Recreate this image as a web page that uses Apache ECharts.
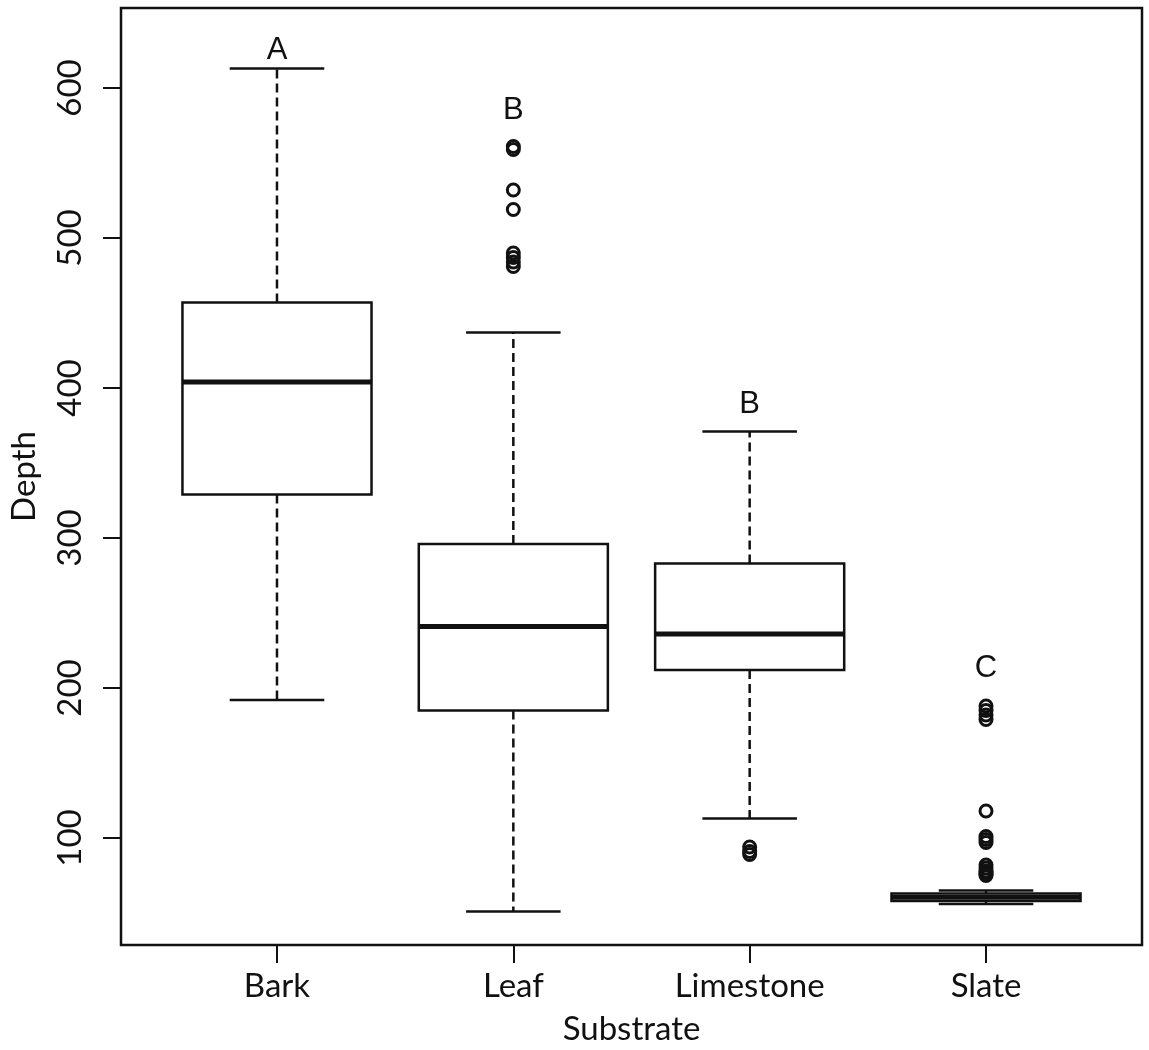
<!DOCTYPE html>
<html><head><meta charset="utf-8">
<script src="https://cdn.jsdelivr.net/npm/echarts@6/dist/echarts.min.js"></script>
<style>html,body{margin:0;padding:0;background:#fff}#c{width:1149px;height:1050px}</style>
</head><body><div id="c"></div>
<script>
const categories = ['Bark', 'Leaf', 'Limestone', 'Slate'];
const whiskerLow = [192, 51, 113, 56];
const q1 = [329, 185, 212, 58];
const median = [404, 241, 236, 60.5];
const q3 = [457, 296, 283, 63];
const whiskerHigh = [613, 437, 371, 65];
const outliersBark = [];
const outliersLeaf = [561, 559, 532, 519, 490, 487, 484, 481];
const outliersLimestone = [94, 91, 89];
const outliersSlate = [188, 185, 182, 179, 118, 101, 99, 97, 82, 80, 78, 77, 76, 75];
const letters = ['A', 'B', 'B', 'C'];
const letterY = [625, 585, 389, 213];
const yTicks = [100, 200, 300, 400, 500, 600];

const FONT = "Lato, 'Open Sans', sans-serif";
const INK = '#111111';

const boxData = categories.map((c, i) => [i + 1, whiskerLow[i], q1[i], median[i], q3[i], whiskerHigh[i]]);
const outlierSets = [outliersBark, outliersLeaf, outliersLimestone, outliersSlate];
const outlierData = [];
outlierSets.forEach((arr, i) => arr.forEach(v => outlierData.push([i + 1, v])));
const letterData = letters.map((l, i) => [i + 1, letterY[i]]);

const chart = echarts.init(document.getElementById('c'), null, {renderer: 'canvas'});
chart.setOption({
  backgroundColor: '#fff',
  animation: false,
  grid: {left: 121, top: 8, right: 7, bottom: 105, outerBoundsMode: 'none', containLabel: false,
    show: true, borderColor: INK, borderWidth: 2.5, backgroundColor: 'transparent'},
  xAxis: {
    type: 'value', min: 0.34, max: 4.66,
    name: 'Substrate', nameLocation: 'middle', nameGap: 68,
    nameTextStyle: {fontFamily: FONT, fontSize: 33, color: INK},
    axisLine: {show: false},
    splitLine: {show: false},
    axisTick: {show: true, length: 18, lineStyle: {color: INK, width: 2}, customValues: [1, 2, 3, 4]},
    axisLabel: {show: true, margin: 25, fontFamily: FONT, fontSize: 33, color: INK,
      customValues: [1, 2, 3, 4], formatter: v => categories[Math.round(v) - 1]}
  },
  yAxis: {
    type: 'value', min: 28.67, max: 653.33,
    name: 'Depth', nameLocation: 'middle', nameGap: 80, nameRotate: 90,
    nameTextStyle: {fontFamily: FONT, fontSize: 33, color: INK},
    axisLine: {show: false},
    splitLine: {show: false},
    axisTick: {show: true, length: 18, lineStyle: {color: INK, width: 2}, customValues: yTicks},
    axisLabel: {show: true, rotate: 90, margin: 34, fontFamily: FONT, fontSize: 33, color: INK, customValues: yTicks}
  },
  series: [
    {
      type: 'custom', data: boxData, z: 3,
      renderItem: function (params, api) {
        const x = api.value(0);
        const pLo = api.coord([x, api.value(1)]);
        const pA = api.coord([x, api.value(2)]);
        const pM = api.coord([x, api.value(3)]);
        const pB = api.coord([x, api.value(4)]);
        const pHi = api.coord([x, api.value(5)]);
        const left = api.coord([x - 0.4, 0])[0];
        const right = api.coord([x + 0.4, 0])[0];
        const sl = api.coord([x - 0.2, 0])[0];
        const sr = api.coord([x + 0.2, 0])[0];
        const cx = pLo[0];
        const dash = {stroke: INK, lineWidth: 2.5, lineDash: [9, 5]};
        const solid = {stroke: INK, lineWidth: 2.5};
        return {type: 'group', children: [
          {type: 'line', shape: {x1: cx, y1: pA[1], x2: cx, y2: pLo[1]}, style: dash},
          {type: 'line', shape: {x1: cx, y1: pB[1], x2: cx, y2: pHi[1]}, style: dash},
          {type: 'line', shape: {x1: sl, y1: pLo[1], x2: sr, y2: pLo[1]}, style: solid},
          {type: 'line', shape: {x1: sl, y1: pHi[1], x2: sr, y2: pHi[1]}, style: solid},
          {type: 'rect', shape: {x: left, y: pB[1], width: right - left, height: pA[1] - pB[1]},
            style: {fill: '#fff', stroke: INK, lineWidth: 2.5}},
          {type: 'line', shape: {x1: left, y1: pM[1], x2: right, y2: pM[1]}, style: {stroke: INK, lineWidth: 5}}
        ]};
      }
    },
    {
      type: 'scatter', data: outlierData, z: 4,
      symbol: 'circle', symbolSize: 12,
      itemStyle: {color: 'rgba(0,0,0,0)', borderColor: INK, borderWidth: 3, opacity: 1}
    },
    {
      type: 'custom', data: letterData, z: 5,
      renderItem: function (params, api) {
        const p = api.coord([api.value(0), api.value(1)]);
        return {type: 'text', style: {text: letters[params.dataIndex], x: p[0], y: p[1],
          fill: INK, fontSize: 31, fontFamily: "'Liberation Sans', Arial, sans-serif",
          align: 'center', verticalAlign: 'middle'}};
      }
    }
  ]
});
</script></body></html>
